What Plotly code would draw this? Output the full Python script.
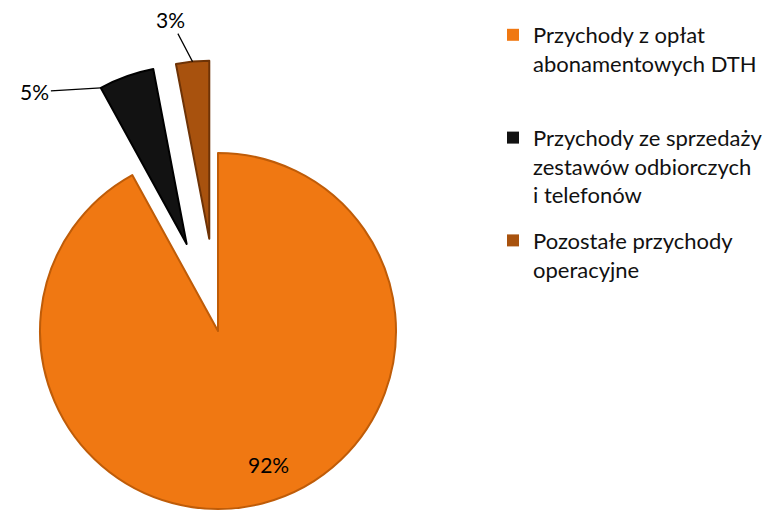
import math
import plotly.graph_objects as go

# Revenue structure
labels = [
    "Przychody z opłat abonamentowych DTH",
    "Przychody ze sprzedaży zestawów odbiorczych i telefonów",
    "Pozostałe przychody operacyjne",
]
legend_labels = [
    "Przychody z opłat<br>abonamentowych DTH<br> ",
    "Przychody ze sprzedaży<br>zestawów odbiorczych<br>i telefonów",
    "Pozostałe przychody<br>operacyjne",
]
shares = [92, 5, 3]
pulls = [0.0, 0.52, 0.52]
colors = ["#F07812", "#121212", "#A8520E"]
edge_colors = ["#BF5C08", "#000000", "#6E3306"]

FONT = "Lato"
W, H = 771, 512
CX, CY, R = 218, 331, 178  # pie centre and radius in pixels

total = sum(shares)
starts, mids = [], []
acc = 0
for v in shares:
    starts.append(360.0 * acc / total)
    mids.append(360.0 * (acc + v / 2) / total)
    acc += v


def centre_of(i):
    off = pulls[i] * R
    a = math.radians(mids[i])
    return CX + off * math.sin(a), CY - off * math.cos(a)


def domain_of(cx, cy, r):
    return dict(x=[(cx - r) / W, (cx + r) / W], y=[1 - (cy + r) / H, 1 - (cy - r) / H])


def to_paper(px, py):
    return px / W, 1 - py / H


def polar_point(cx, cy, radius, ang):
    a = math.radians(ang)
    return cx + radius * math.sin(a), cy - radius * math.cos(a)


fig = go.Figure()

# legend entries: zero-size pies hidden under the main slice
lx, ly = to_paper(CX + 60, CY + 80)
for i in range(len(shares)):
    fig.add_trace(go.Pie(
        labels=[legend_labels[i]], values=[shares[i]], sort=False,
        marker=dict(colors=[colors[i]], line=dict(width=0)),
        textinfo="none", hoverinfo="skip",
        domain=dict(x=[lx, lx + 0.0001], y=[ly, ly + 0.0001]),
        legendgroup=f"g{i}", showlegend=True,
    ))

# each slice drawn as its own exploded pie
for i in range(len(shares)):
    cx, cy = centre_of(i)
    fig.add_trace(go.Pie(
        labels=labels, values=shares, sort=False, direction="clockwise", rotation=0,
        marker=dict(
            colors=[colors[j] if j == i else "rgba(0,0,0,0)" for j in range(len(shares))],
            line=dict(color=[edge_colors[j] if j == i else "rgba(0,0,0,0)" for j in range(len(shares))],
                      width=[2 if j == i else 0 for j in range(len(shares))]),
        ),
        textinfo="none",
        hoverinfo="label+percent",
        domain=domain_of(cx, cy, R),
        showlegend=False,
    ))

annotations = []

# value label inside the large slice
px, py = polar_point(CX, CY, 0.8 * R, mids[0])
x, y = to_paper(px, py)
annotations.append(dict(
    x=x, y=y, xref="paper", yref="paper", text=f"{shares[0]}%", showarrow=False,
    xanchor="center", yanchor="middle", xshift=15, yshift=4,
    font=dict(family=FONT, size=21, color="#000000"),
))

# outside labels with leader lines for the exploded slices
label_specs = [(1, starts[1], -66, 4), (2, mids[2], -22, -42)]
for i, ang, ax, ay in label_specs:
    cx, cy = centre_of(i)
    px, py = polar_point(cx, cy, R, ang)
    x, y = to_paper(px, py)
    annotations.append(dict(
        x=x, y=y, xref="paper", yref="paper", text=f"{shares[i]}%",
        showarrow=True, arrowhead=0, arrowwidth=1.2, arrowcolor="#000000",
        ax=ax, ay=ay, standoff=0,
        font=dict(family=FONT, size=21, color="#000000"),
    ))

fig.update_layout(
    width=W, height=H,
    margin=dict(l=0, r=0, t=0, b=0),
    paper_bgcolor="#FFFFFF", plot_bgcolor="#FFFFFF",
    annotations=annotations,
    legend=dict(
        x=493 / W, y=1 - 14 / H, xanchor="left", yanchor="top",
        font=dict(family=FONT, size=22, color="#111111"),
        valign="top", traceorder="grouped", tracegroupgap=14, itemclick=False,
    ),
)

fig.write_html("out.html")
